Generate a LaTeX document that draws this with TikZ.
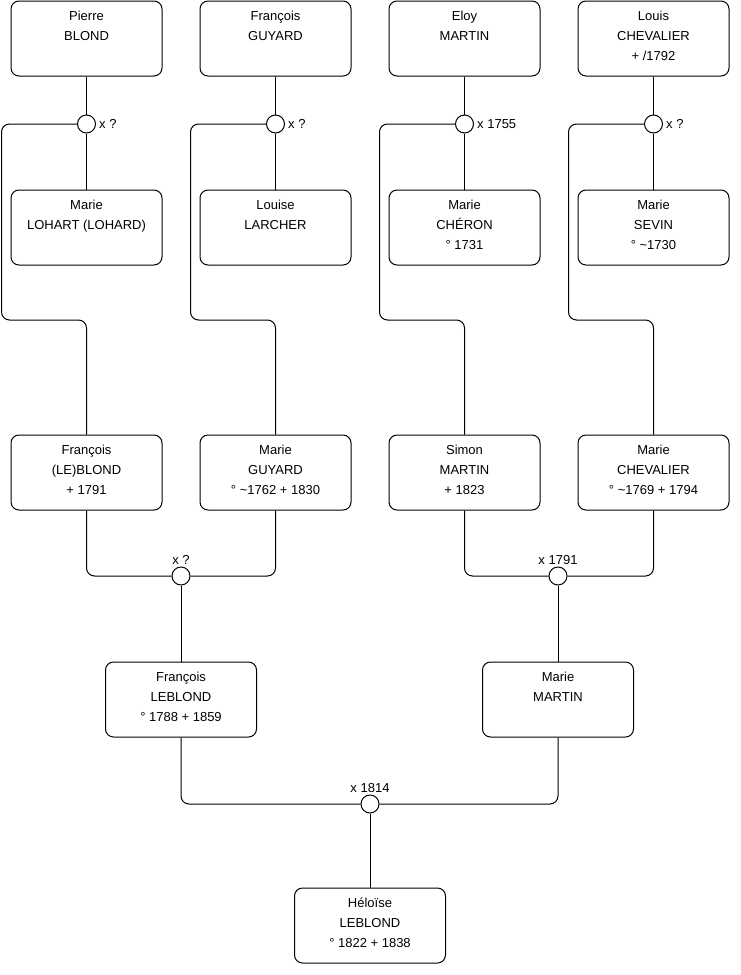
\documentclass[tikz,border=0pt]{standalone}
\usepackage{fontspec}
\setmainfont{Liberation Sans}
\usepackage{tikz}
\usetikzlibrary{positioning}

\newcommand{\who}[1]{\parbox[t][75pt][t]{150pt}{\centering\rule{0pt}{19pt}#1}}

\tikzset{
  person/.style={draw, rounded corners=8pt, line width=1pt, inner sep=0pt,
    minimum width=151pt, minimum height=75pt, font=\fontsize{13}{20}\selectfont},
  wed/.style={draw, circle, fill=white, line width=1pt, inner sep=0pt,
    minimum size=18pt},
  link/.style={line width=1pt, rounded corners=8pt},
  every label/.style={font=\fontsize{13}{14}\selectfont, inner sep=1pt}
}

\begin{document}
\begin{tikzpicture}[x=1pt, y=-1pt]
  \useasboundingbox (0,0) rectangle (740,975);

  % grands-parents
  \node[person] (blond)     at (86.5,38.5)  {\who{Pierre\\BLOND}};
  \node[person] (guyard)    at (275.5,38.5) {\who{François\\GUYARD}};
  \node[person] (martin)    at (464.5,38.5) {\who{Eloy\\MARTIN}};
  \node[person] (chevalier) at (653.5,38.5) {\who{Louis\\CHEVALIER\\+ /1792}};

  \node[person] (lohart)  at (86.5,227.5)  {\who{Marie\\LOHART (LOHARD)}};
  \node[person] (larcher) at (275.5,227.5) {\who{Louise\\LARCHER}};
  \node[person] (cheron)  at (464.5,227.5) {\who{Marie\\CHÉRON\\° 1731}};
  \node[person] (sevin)   at (653.5,227.5) {\who{Marie\\SEVIN\\° \textasciitilde1730}};

  \node[wed, label={[label distance=2pt]right:x ?}]    (xblond)     at (86.5,124)  {};
  \node[wed, label={[label distance=2pt]right:x ?}]    (xguyard)    at (275.5,124) {};
  \node[wed, label={[label distance=2pt]right:x 1755}] (xmartin)    at (464.5,124) {};
  \node[wed, label={[label distance=2pt]right:x ?}]    (xchevalier) at (653.5,124) {};

  % parents
  \node[person] (fblond)     at (86.5,472.5)  {\who{François\\(LE)BLOND\\+ 1791}};
  \node[person] (mguyard)    at (275.5,472.5) {\who{Marie\\GUYARD\\° \textasciitilde1762 + 1830}};
  \node[person] (smartin)    at (464.5,472.5) {\who{Simon\\MARTIN\\+ 1823}};
  \node[person] (mchevalier) at (653.5,472.5) {\who{Marie\\CHEVALIER\\° \textasciitilde1769 + 1794}};

  \node[wed, label={[label distance=1pt]above:x ?}]    (xfblond)  at (181,576) {};
  \node[wed, label={[label distance=1pt]above:x 1791}] (xsmartin) at (558,576) {};

  \node[person] (fleblond) at (181,699.5) {\who{François\\LEBLOND\\° 1788 + 1859}};
  \node[person] (mmartin)  at (558,699.5) {\who{Marie\\MARTIN}};

  \node[wed, label={[label distance=1pt]above:x 1814}] (xheloise) at (370,804) {};

  \node[person] (heloise) at (370,925.5) {\who{Héloïse\\LEBLOND\\° 1822 + 1838}};

  % liens
  \foreach \a/\x/\b in {blond/xblond/lohart, guyard/xguyard/larcher,
                        martin/xmartin/cheron, chevalier/xchevalier/sevin} {
    \draw[link] (\a) -- (\x);
    \draw[link] (\x) -- (\b);
  }
  \draw[link] (xblond.west) -| ++(-75.5,196) -| (fblond.north);
  \draw[link] (xguyard.west) -| ++(-75.5,196) -| (mguyard.north);
  \draw[link] (xmartin.west) -| ++(-75.5,196) -| (smartin.north);
  \draw[link] (xchevalier.west) -| ++(-75.5,196) -| (mchevalier.north);

  \draw[link] (fblond.south) |- (xfblond.west);
  \draw[link] (mguyard.south) |- (xfblond.east);
  \draw[link] (smartin.south) |- (xsmartin.west);
  \draw[link] (mchevalier.south) |- (xsmartin.east);
  \draw[link] (xfblond) -- (fleblond);
  \draw[link] (xsmartin) -- (mmartin);

  \draw[link] (fleblond.south) |- (xheloise.west);
  \draw[link] (mmartin.south) |- (xheloise.east);
  \draw[link] (xheloise) -- (heloise);
\end{tikzpicture}
\end{document}
